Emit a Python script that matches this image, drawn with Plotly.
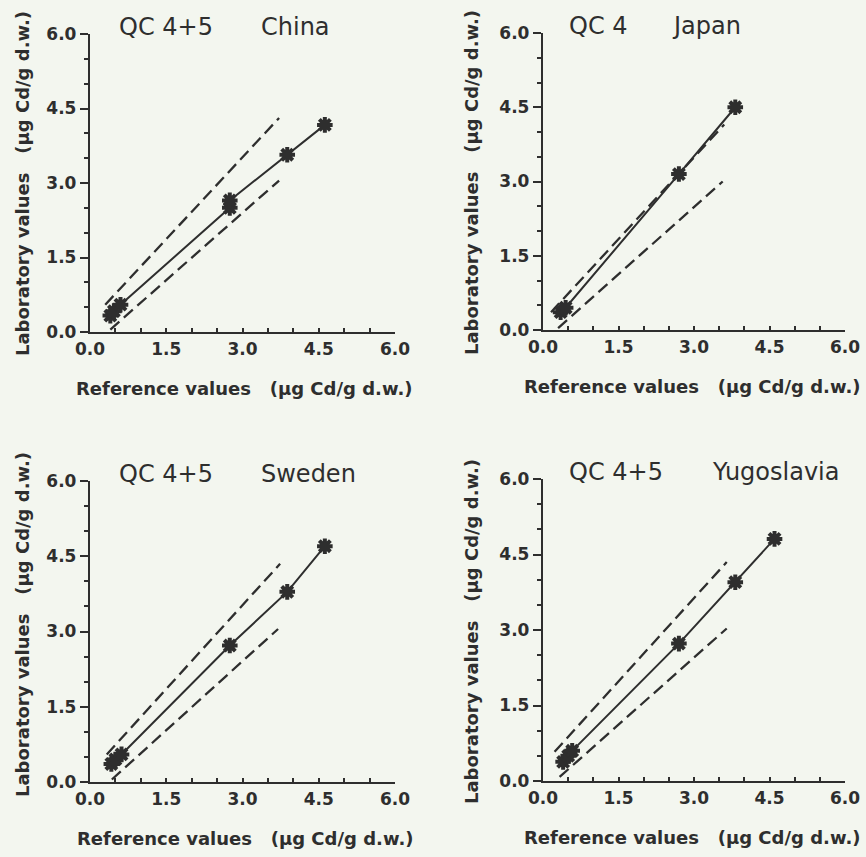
import plotly.graph_objects as go

W, H = 866, 857

# ---- data ----
titles_qc = ["QC 4+5", "QC 4", "QC 4+5", "QC 4+5"]
countries = ["China", "Japan", "Sweden", "Yugoslavia"]

china_x = [0.40, 0.47, 0.60, 2.75, 2.75, 3.88, 4.62]
china_y = [0.33, 0.42, 0.55, 2.50, 2.65, 3.57, 4.17]
japan_x = [0.35, 0.45, 2.70, 3.82]
japan_y = [0.36, 0.45, 3.15, 4.50]
sweden_x = [0.42, 0.50, 0.62, 2.75, 3.88, 4.62]
sweden_y = [0.36, 0.45, 0.55, 2.72, 3.79, 4.70]
yugo_x = [0.40, 0.50, 0.58, 2.70, 3.82, 4.60]
yugo_y = [0.38, 0.50, 0.60, 2.73, 3.95, 4.81]

# dashed limit lines: (x_start, x_end), (y_start, y_end)
upper_x = [[0.30, 3.72], [0.16, 3.60], [0.33, 3.74], [0.23, 3.65]]
upper_y = [[0.55, 4.31], [0.36, 4.15], [0.55, 4.35], [0.58, 4.35]]
lower_x = [[0.40, 3.72], [0.30, 3.57], [0.43, 3.70], [0.33, 3.65]]
lower_y = [[0.05, 3.05], [0.04, 3.00], [0.05, 3.05], [0.08, 3.03]]

tick_vals = [0.0, 1.5, 3.0, 4.5, 6.0]
x_title = "Reference values\u00a0\u00a0\u00a0(\u03bcg Cd/g d.w.)"
y_title = "Laboratory values\u00a0\u00a0\u00a0(\u03bcg Cd/g d.w.)"

series = [(china_x, china_y), (japan_x, japan_y), (sweden_x, sweden_y), (yugo_x, yugo_y)]

# ---- layout geometry (pixels) ----
ink = "#2e2e2e"
bg = "#f3f6ef"
x_dom_px = [(90, 395), (543, 845), (90, 395), (543, 845)]
y_dom_px = [(34, 332), (33, 330), (481, 782), (479, 781)]
qc_x_px = [118, 568, 118, 568]
country_x_px = [260, 671, 260, 711]
xtitle_cx = [244, 692, 245, 692]
ytitle_cy = [184, 183, 625, 632]
ytitle_x = [22, 471, 22, 471]

def px(x):
    return x / W

def py(y):
    return 1 - y / H

fig = go.Figure()
layout = {}
annotations = []

for i in range(4):
    n = "" if i == 0 else str(i + 1)
    xa, ya = "x" + n, "y" + n
    sx, sy = series[i]
    # dashed limits
    for lx, ly in ((upper_x[i], upper_y[i]), (lower_x[i], lower_y[i])):
        fig.add_trace(go.Scatter(x=lx, y=ly, mode="lines",
                                 line=dict(color=ink, width=2.3, dash="12px,6px"),
                                 xaxis=xa, yaxis=ya, showlegend=False, hoverinfo="skip"))
    # data
    fig.add_trace(go.Scatter(x=sx, y=sy, mode="lines+markers",
                             line=dict(color=ink, width=2),
                             marker=dict(symbol="asterisk-open", size=13, color=ink,
                                         line=dict(color=ink, width=4)),
                             cliponaxis=False,
                             xaxis=xa, yaxis=ya, showlegend=False))
    common = dict(
        range=[0, 6], tickvals=tick_vals, tickformat=".1f", automargin=False,
        showgrid=False, zeroline=False, showline=True, linecolor=ink, linewidth=2.3,
        tickwidth=2, tickcolor=ink,
        tickfont=dict(family="DejaVu Sans", size=17, color=ink, weight="bold"),
    )
    x0, x1 = x_dom_px[i]
    y0, y1 = y_dom_px[i]
    layout["xaxis" + n] = dict(common, domain=[px(x0), px(x1)], anchor=ya,
                               ticks="inside", ticklen=4,
                               minor=dict(dtick=0.5, tick0=0, ticks="inside", ticklen=4,
                                          tickwidth=2, tickcolor=ink))
    layout["yaxis" + n] = dict(common, domain=[py(y1), py(y0)], anchor=xa,
                               ticks="outside", ticklen=8,
                               minor=dict(dtick=0.5, tick0=0, ticks="outside", ticklen=4,
                                          tickwidth=2, tickcolor=ink))

    # titles
    tfont = dict(family="DejaVu Sans", size=24, color=ink)
    annotations.append(dict(text=titles_qc[i], x=px(qc_x_px[i]), y=py(y0 - 7),
                            xref="paper", yref="paper", xanchor="left", yanchor="middle",
                            showarrow=False, font=tfont, borderpad=0))
    annotations.append(dict(text=countries[i], x=px(country_x_px[i]), y=py(y0 - 7),
                            xref="paper", yref="paper", xanchor="left", yanchor="middle",
                            showarrow=False, font=tfont, borderpad=0))
    # axis titles
    afont = dict(family="DejaVu Sans", size=18, color=ink, weight="bold")
    annotations.append(dict(text=x_title, x=px(xtitle_cx[i]), y=py(y1 + 56),
                            xref="paper", yref="paper", xanchor="center", yanchor="middle",
                            showarrow=False, font=afont, borderpad=0))
    annotations.append(dict(text=y_title, x=px(ytitle_x[i]), y=py(ytitle_cy[i]),
                            xref="paper", yref="paper", xanchor="center", yanchor="middle",
                            textangle=-90, showarrow=False, font=afont, borderpad=0))

fig.update_layout(**layout)
fig.update_layout(width=W, height=H, margin=dict(l=0, r=0, t=0, b=0),
                  paper_bgcolor=bg, plot_bgcolor=bg, annotations=annotations,
                  showlegend=False)

fig.write_html("out.html")
